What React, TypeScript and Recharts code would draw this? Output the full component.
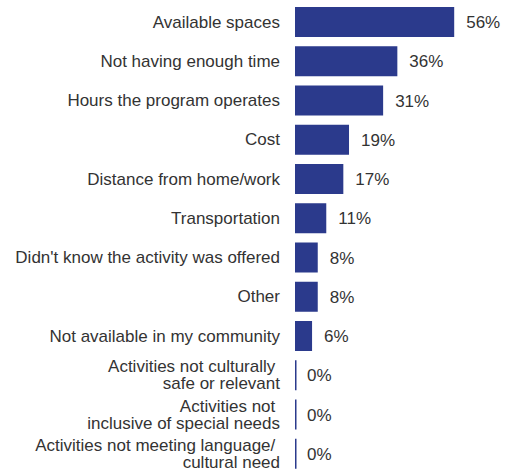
import { BarChart, Bar, XAxis, YAxis, LabelList } from 'recharts';

const CATEGORIES = [
  'Available spaces',
  'Not having enough time',
  'Hours the program operates',
  'Cost',
  'Distance from home/work',
  'Transportation',
  "Didn't know the activity was offered",
  'Other',
  'Not available in my community',
  'Activities not culturally \nsafe or relevant',
  'Activities not \ninclusive of special needs',
  'Activities not meeting language/ \ncultural need',
];
const VALUES = [56, 36, 31, 19, 17, 11, 8, 8, 6, 0, 0, 0];

const data = CATEGORIES.map((name, i) => ({ name, value: VALUES[i] }));

const BAR_COLOR = '#2b3a8c';
const TEXT_COLOR = '#333333';
const FONT = 'Liberation Sans, Arial, sans-serif';

function CategoryTick({ x, y, payload }: any) {
  const lines = String(payload.value).split('\n');
  const lh = 17;
  const startDy = -((lines.length - 1) * lh) / 2;
  return (
    <text
      x={x}
      y={y}
      textAnchor="end"
      fill={TEXT_COLOR}
      fontSize={17}
      fontFamily={FONT}
      dominantBaseline="central"
      style={{ whiteSpace: 'pre' }}
    >
      {lines.map((l, i) => (
        <tspan key={i} x={x} dy={i === 0 ? startDy : lh}>{l}</tspan>
      ))}
    </text>
  );
}

// zero values still get a thin stub so the row isn't empty
function BarShape({ x, y, width, height, fill }: any) {
  if (!width || width < 1.5) {
    return <rect x={x} y={y} width={1.5} height={height} fill={fill} />;
  }
  return <rect x={x} y={y} width={width} height={height} fill={fill} />;
}

export default function App() {
  return (
    <div style={{ position: 'absolute', left: 0, top: 0, background: '#fff' }}>
      <BarChart
        width={505}
        height={473}
        data={data}
        layout="vertical"
        margin={{ top: 2, right: 11, left: 0, bottom: 0 }}
      >
        <XAxis type="number" domain={[0, 70]} hide />
        <YAxis
          type="category"
          dataKey="name"
          width={295}
          axisLine={false}
          tickLine={false}
          tickMargin={9}
          interval={0}
          tick={<CategoryTick />}
        />
        <Bar dataKey="value" fill={BAR_COLOR} barSize={30} shape={<BarShape />} isAnimationActive={false}>
          <LabelList
            dataKey="value"
            position="right"
            offset={12}
            formatter={(v: any) => `${v}%`}
            fill={TEXT_COLOR}
            fontSize={17}
            fontFamily={FONT}
          />
        </Bar>
      </BarChart>
    </div>
  );
}
